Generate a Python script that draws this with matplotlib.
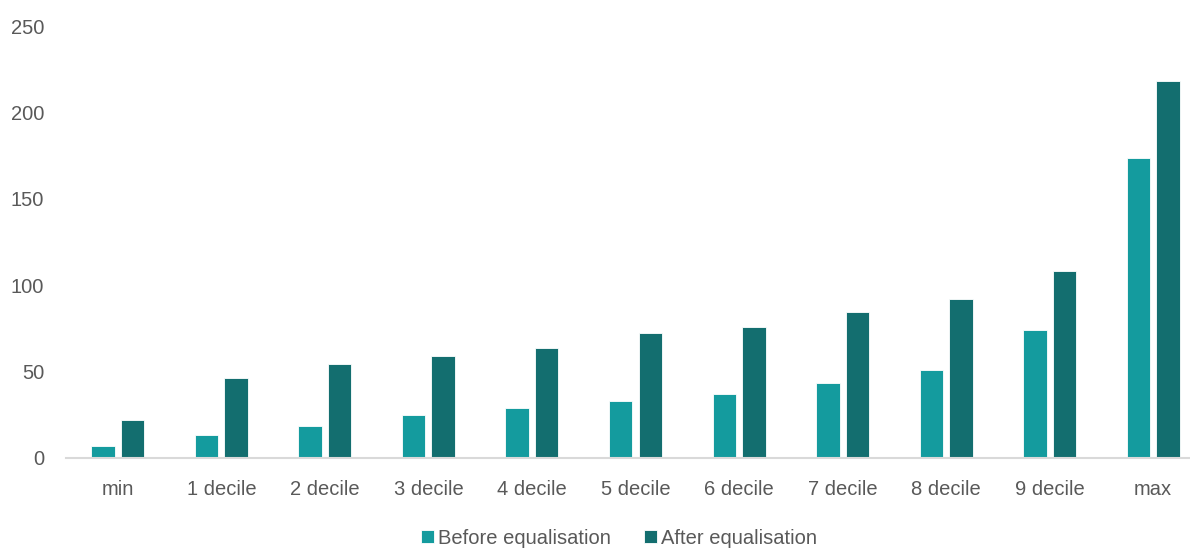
import matplotlib
matplotlib.use("Agg")
import matplotlib.pyplot as plt
import numpy as np

categories = ["min", "1 decile", "2 decile", "3 decile", "4 decile", "5 decile",
              "6 decile", "7 decile", "8 decile", "9 decile", "max"]
before_eq = [6.8, 13.3, 18.3, 24.5, 28.7, 32.9, 36.8, 43.2, 50.7, 74.0, 173.8]
after_eq = [21.5, 46.0, 54.2, 58.8, 63.7, 72.2, 75.9, 84.6, 91.9, 108.3, 218.3]
y_ticks = [0, 50, 100, 150, 200, 250]

plt.rcParams["font.family"] = ["Liberation Sans", "DejaVu Sans"]

W, H = 1190, 548
fig = plt.figure(figsize=(W / 100, H / 100), dpi=100)
left, right, top, bottom = 66, 1205, 26.5, 457.5
ax = fig.add_axes([left / W, 1 - bottom / H, (right - left) / W, (bottom - top) / H])

x = np.arange(len(categories))
bw = 0.227
off = 0.1425
c_before = "#149B9E"
c_after = "#136E6F"
ax.bar(x - off, before_eq, bw, color=c_before, edgecolor="white", linewidth=0.6,
       label="Before equalisation", zorder=2)
ax.bar(x + off, after_eq, bw, color=c_after, edgecolor="white", linewidth=0.6,
       label="After equalisation", zorder=2)

ax.set_xlim(-0.5, len(categories) - 0.5)
ax.set_ylim(0, 250)
ax.set_yticks(y_ticks)
ax.set_xticks(x)
ax.set_xticklabels(categories)

for s in ["top", "right", "left"]:
    ax.spines[s].set_visible(False)
ax.spines["bottom"].set_color("#D9D9D9")
ax.spines["bottom"].set_linewidth(1.5)
ax.spines["bottom"].set_zorder(3)

fs = 14.5
ax.tick_params(axis="both", length=0, labelsize=fs, labelcolor="#595959")
ax.tick_params(axis="y", pad=15.6)
ax.tick_params(axis="x", pad=16)

fig.legend(loc="center", bbox_to_anchor=(619 / W, 1 - 538 / H), ncol=2,
           frameon=False, fontsize=fs, labelcolor="#595959",
           handlelength=0.65, handleheight=0.65, handletextpad=0.2,
           columnspacing=1.6, borderpad=0)

fig.savefig("out.png", dpi=100)
